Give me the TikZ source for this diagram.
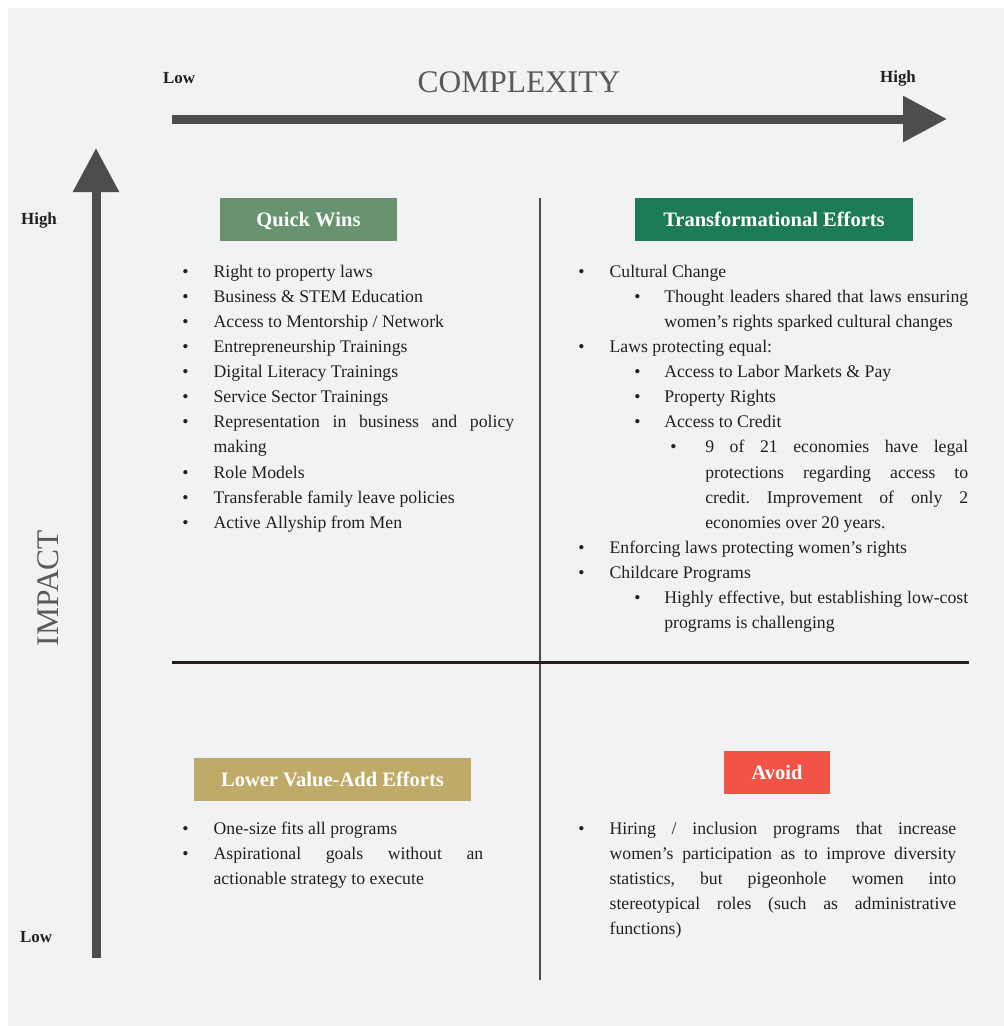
\documentclass[tikz,border=0pt]{standalone}
\usepackage{fontspec}
\setmainfont{Liberation Serif}
\usetikzlibrary{arrows.meta}
\frenchspacing

\definecolor{bgcol}{HTML}{F1F2F4}
\definecolor{axiscol}{HTML}{4D4D4F}
\definecolor{txtcol}{HTML}{231F20}
\definecolor{titlecol}{HTML}{58595B}
\definecolor{quickcol}{HTML}{67946E}
\definecolor{transcol}{HTML}{1D7C57}
\definecolor{lowercol}{HTML}{BFAA68}
\definecolor{avoidcol}{HTML}{F15446}

\newcommand{\bitem}[3]{\noindent\hangindent=#2\hangafter=1\hspace*{#1}\makebox[\dimexpr #2-#1\relax][l]{\textbullet}#3\par}
\newcommand{\lvlone}[1]{\bitem{0pt}{23.5pt}{#1}}
\newcommand{\lvltwo}[1]{\bitem{42pt}{64.5pt}{#1}}
\newcommand{\lvlthree}[1]{\bitem{69pt}{95.25pt}{#1}}

\begin{document}
\begin{tikzpicture}[x=0.75pt,y=-0.75pt,
                axis/.style={draw=axiscol,line width=6.75pt,-{Triangle[length=33pt,width=33pt]}},
                head/.style={fill=#1,text=white,font=\bfseries\fontsize{15.4}{18}\selectfont,
                  minimum height=32.25pt,inner sep=0pt,text height=13.3pt,text depth=3.5pt},
                endlabel/.style={font=\bfseries\fontsize{12.7}{15}\selectfont,text=txtcol},
                axislabel/.style={font=\fontsize{23.6}{28}\selectfont,text=titlecol},
                itemlist/.style={anchor=base west,inner sep=0pt,align=justify,text=txtcol,
                  font=\fontsize{13.3}{18.85}\selectfont}]
                \useasboundingbox (0,0) rectangle (1004,1026);
                \fill[bgcol] (8,8) rectangle (1004,1026);

                \coordinate (xstart) at (172,119);
                \coordinate (xend) at (947,119);
                \coordinate (ystart) at (96,958);
                \coordinate (yend) at (96,148);
                \coordinate (vtop) at (540,198);
                \coordinate (vbot) at (540,980);
                \coordinate (hleft) at (172,662.5);
                \coordinate (hright) at (969,662.5);

                \draw[axis] (xstart) -- (xend);
                \draw[axis] (ystart) -- (yend);
                \draw[axiscol,line width=1.6pt] (vtop) -- (vbot);
                \draw[txtcol,line width=1.9pt] (hleft) -- (hright);

                \node[endlabel] (xlow) at (179,78) {Low};
                \node[endlabel] (xhigh) at (898,78) {High};
                \node[axislabel] (xtitle) at (519,82) {COMPLEXITY};
                \node[endlabel] (yhigh) at (39,220) {High};
                \node[endlabel] (ylow) at (36,937) {Low};
                \node[axislabel,rotate=90] (ytitle) at (48,588) {IMPACT};

                \node[head=quickcol,minimum width=132.75pt] (quick) at (308.5,219.5) {Quick Wins};
                \node[head=transcol,minimum width=208.5pt] (trans) at (774,219.5) {Transformational Efforts};
                \node[head=lowercol,minimum width=207.75pt] (lower) at (332.5,779.5) {Lower Value-Add Efforts};
                \node[head=avoidcol,minimum width=79.5pt] (avoid) at (777,772.5) {Avoid};

                \node[itemlist,text width=249pt] (quicklist) at (182,277) {%
                  \lvlone{Right to property laws}
                  \lvlone{Business \& STEM Education}
                  \lvlone{Access to Mentorship / Network}
                  \lvlone{Entrepreneurship Trainings}
                  \lvlone{Digital Literacy Trainings}
                  \lvlone{Service Sector Trainings}
                  \lvlone{Representation in business and policy\linebreak making}
                  \lvlone{Role Models}
                  \lvlone{Transferable family leave policies}
                  \lvlone{Active Allyship from Men}};

                \node[itemlist,text width=292.5pt] (translist) at (578,277) {%
                  \lvlone{Cultural Change}
                  \lvltwo{Thought leaders shared that laws ensuring\linebreak women's rights sparked cultural changes}
                  \lvlone{Laws protecting equal:}
                  \lvltwo{Access to Labor Markets \& Pay}
                  \lvltwo{Property Rights}
                  \lvltwo{Access to Credit}
                  \lvlthree{9 of 21 economies have legal\linebreak protections regarding access to\linebreak credit. Improvement of only 2\linebreak economies over 20 years.}
                  \lvlone{Enforcing laws protecting women's rights}
                  \lvlone{Childcare Programs}
                  \lvltwo{Highly effective, but establishing low-cost\linebreak programs is challenging}};

                \node[itemlist,text width=225.75pt] (lowerlist) at (182,834) {%
                  \lvlone{One-size fits all programs}
                  \lvlone{Aspirational goals without an\linebreak actionable strategy to execute}};

                \node[itemlist,text width=283.5pt] (avoidlist) at (578,834) {%
                  \lvlone{Hiring / inclusion programs that increase\linebreak women's participation as to improve diversity\linebreak statistics, but pigeonhole women into\linebreak stereotypical roles (such as administrative\linebreak functions)}};
                \end{tikzpicture}
\end{document}
